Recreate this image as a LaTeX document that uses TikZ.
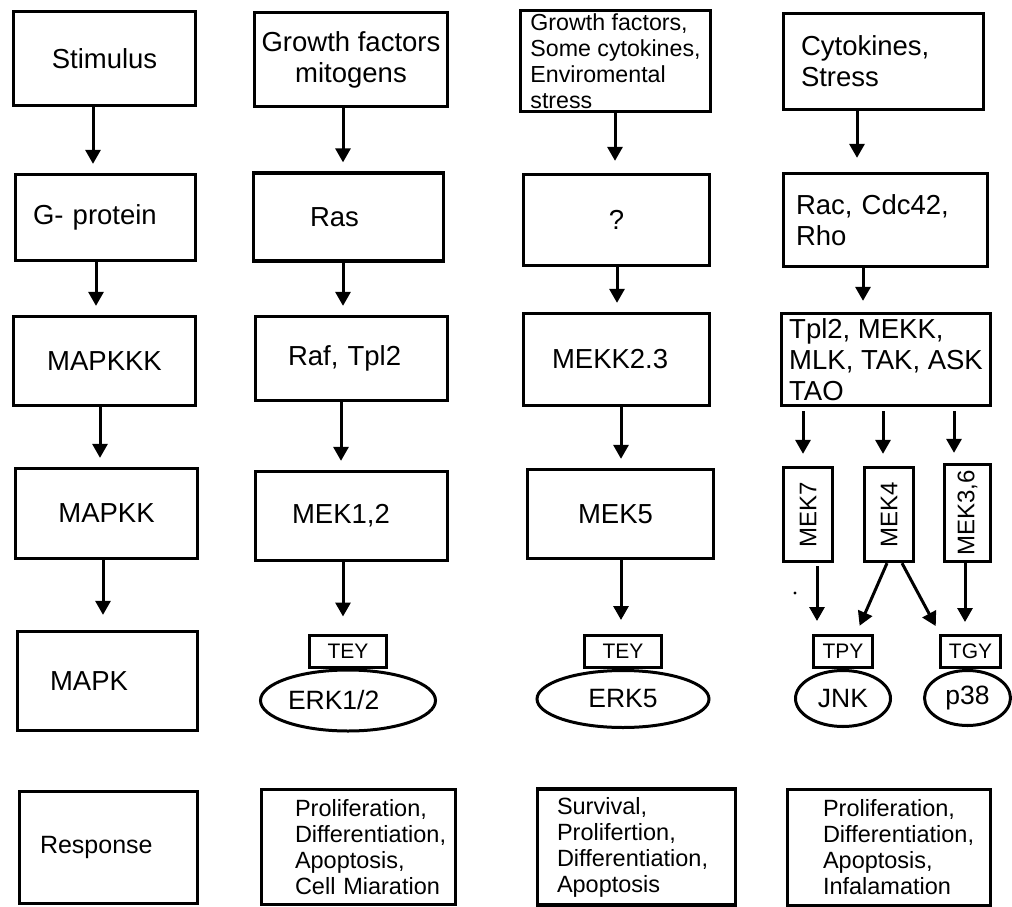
\documentclass[tikz,border=0pt]{standalone}
\usepackage{fontspec}
\setmainfont{Liberation Sans}
\usepackage{graphicx}
\usetikzlibrary{positioning,shapes.geometric,arrows.meta}

\begin{document}
\begin{tikzpicture}[x=1pt, y=-1pt,
        box/.style={draw, line width=3.3pt, inner sep=0pt, font=\fontsize{27.5pt}{31pt}\selectfont},
        resp/.style={box, align=left, font=\fontsize{23.5pt}{26pt}\selectfont},
        site/.style={draw, line width=3pt, inner sep=0pt, minimum height=32pt, font=\fontsize{21pt}{24pt}\selectfont},
        kinase/.style={draw, ellipse, line width=3pt, inner sep=0pt, font=\fontsize{26.5pt}{30pt}\selectfont},
        arr/.style={line width=3pt, -{Triangle[width=15pt,length=14pt]}, shorten >=9pt}]
        \useasboundingbox (0,0) rectangle (1012,907);

        % generic cascade
        \node (stim) at (104.5,58.5) [box, minimum width=182pt, minimum height=94pt] {Stimulus};
        \node (gprot) at (105.5,217.5) [box, align=left, text width=145pt, minimum width=180pt, minimum height=86pt] {G- protein};
        \node (mkkk) at (104.5,361) [box, minimum width=182pt, minimum height=89pt] {MAPKKK};
        \node (mkk) at (106.5,513.5) [box, minimum width=182pt, minimum height=90pt] {MAPKK};
        \node (mapk) at (107.5,681) [box, align=left, text width=115pt, minimum width=180pt, minimum height=99pt] {MAPK};
        \node (resp1) at (108.5,847.5) [box, align=left, text width=137pt, minimum width=178pt, minimum height=112pt, font=\fontsize{25pt}{28pt}\selectfont] {Response};

        % ERK1/2
        \node (gf) at (351,59.5) [box, align=center, minimum width=193pt, minimum height=94pt] {Growth factors\\mitogens};
        \node (ras) at (348.5,217) [box, align=left, text width=77pt, minimum width=190pt, minimum height=88pt] {Ras};
        \node (raf) at (351.5,358.5) [box, align=left, text width=127pt, minimum width=192pt, minimum height=84pt] {Raf, Tpl2};
        \node (mek12) at (351.5,516) [box, align=left, text width=119pt, minimum width=192pt, minimum height=89pt] {MEK1,2};
        \node (tey12) at (348,651) [site, minimum width=77pt] {TEY};
        \node (erk12) [kinase, below=0pt of tey12, align=left, text width=120pt, minimum width=175pt, minimum height=61pt] {ERK1/2};
        \node (resp2) at (358.5,847) [resp, text width=127pt, minimum width=194pt, minimum height=115pt] {Proliferation,\\Differentiation,\\Apoptosis,\\\mbox{Cell Miaration}};

        % ERK5
        \node (gf5) at (615.5,61) [box, align=left, minimum width=190pt, minimum height=101pt, font=\fontsize{23.2pt}{26pt}\selectfont] {Growth factors,\\Some cytokines,\\Enviromental\\stress};
        \node (unk) at (616.5,220) [box, minimum width=186pt, minimum height=91pt] {?};
        \node (mekk23) at (616.5,359.5) [box, align=left, text width=129pt, minimum width=186pt, minimum height=92pt] {MEKK2.3};
        \node (mek5) at (620.5,514) [box, align=left, text width=85pt, minimum width=186pt, minimum height=89pt] {MEK5};
        \node (tey5) at (623,651.5) [site, minimum width=77pt] {TEY};
        \node (erk5) [kinase, below=0pt of tey5, minimum width=172pt, minimum height=57pt] {ERK5};
        \node (resp3) at (636.5,847) [resp, text width=159pt, minimum width=198pt, minimum height=116pt] {Survival,\\Prolifertion,\\Differentiation,\\Apoptosis};

        % JNK and p38
        \node (cyto) at (883.5,61.5) [box, align=left, text width=165pt, minimum width=200pt, minimum height=96pt] {Cytokines,\\Stress};
        \node (rac) at (885.5,220) [box, align=left, text width=179pt, minimum width=204pt, minimum height=93pt] {Rac, Cdc42,\\Rho};
        \node (tpl) at (886,359.5) [box, align=left, minimum width=209pt, minimum height=92pt] {Tpl2, MEKK,\\MLK, TAK, ASK\\TAO};
        \node (mek7) at (808,514.5) [box, minimum width=49pt, minimum height=94pt, font=\fontsize{24pt}{28pt}\selectfont] {\rotatebox{90}{MEK7}};
        \node (mek4) at (889,514.5) [box, minimum width=49pt, minimum height=94pt, font=\fontsize{24pt}{28pt}\selectfont] {\rotatebox{90}{MEK4}};
        \node (mek36) at (967.5,513) [box, minimum width=46pt, minimum height=97pt, font=\fontsize{24pt}{28pt}\selectfont] {\rotatebox{90}{MEK3,6}};
        \node (tpy) at (843,651.5) [site, minimum width=59pt] {TPY};
        \node (jnk) [kinase, below=0pt of tpy, minimum width=95pt, minimum height=56pt] {JNK};
        \node (tgy) at (970.5,651.5) [site, minimum width=60pt] {TGY};
        \node (p38) [kinase, below=0pt of tgy, xshift=-3pt, minimum width=86pt, minimum height=55pt] {p38};
        \node (resp4) at (889,847.5) [resp, text width=132pt, minimum width=203pt, minimum height=116pt] {Proliferation,\\Differentiation,\\Apoptosis,\\Infalamation};

        \draw [arr] (stim.south -| 93,0) -- (gprot.north -| 93,0);
        \draw [arr] (gprot.south -| 96,0) -- (mkkk.north -| 96,0);
        \draw [arr] (mkkk.south -| 100,0) -- (mkk.north -| 100,0);
        \draw [arr, shorten >=15pt] (mkk.south -| 103,0) -- (mapk.north -| 103,0);

        \draw [arr] (gf.south -| 343,0) -- (ras.north -| 343,0);
        \draw [arr] (ras.south -| 343,0) -- (raf.north -| 343,0);
        \draw [arr] (raf.south -| 341,0) -- (mek12.north -| 341,0);
        \draw [arr, shorten >=17pt] (mek12.south -| 343,0) -- (tey12.north -| 343,0);

        \draw [arr, shorten >=12pt] (gf5.south -| 615,0) -- (unk.north -| 615,0);
        \draw [arr] (unk.south -| 617,0) -- (mekk23.north -| 617,0);
        \draw [arr] (mekk23.south -| 621,0) -- (mek5.north -| 621,0);
        \draw [arr, shorten >=14pt] (mek5.south -| 621,0) -- (tey5.north -| 621,0);

        \draw [arr, shorten >=14pt] (cyto.south -| 857,0) -- (rac.north -| 857,0);
        \draw [arr, shorten >=11pt] (rac.south -| 863,0) -- (tpl.north -| 863,0);
        \draw [arr, shorten <=4pt, shorten >=12pt] (tpl.south -| 803,0) -- (mek7.north -| 803,0);
        \draw [arr, shorten <=4pt, shorten >=12pt] (tpl.south -| 883,0) -- (mek4.north -| 883,0);
        \draw [arr, shorten <=4pt, shorten >=10pt] (tpl.south -| 954,0) -- (mek36.north -| 954,0);
        \draw [arr, shorten <=3pt, shorten >=13pt] (mek7.south -| 817,0) -- (tpy.north -| 817,0);
        \draw [arr] (mek4.south -| 887,0) -- (tpy.north -| 856,0);
        \draw [arr] (mek4.south -| 902,0) -- (tgy.north -| 940,0);
        \draw [arr, shorten >=12pt] (mek36.south -| 965,0) -- (tgy.north -| 965,0);
        \fill (795,593) circle (1.6pt);
\end{tikzpicture}
\end{document}
